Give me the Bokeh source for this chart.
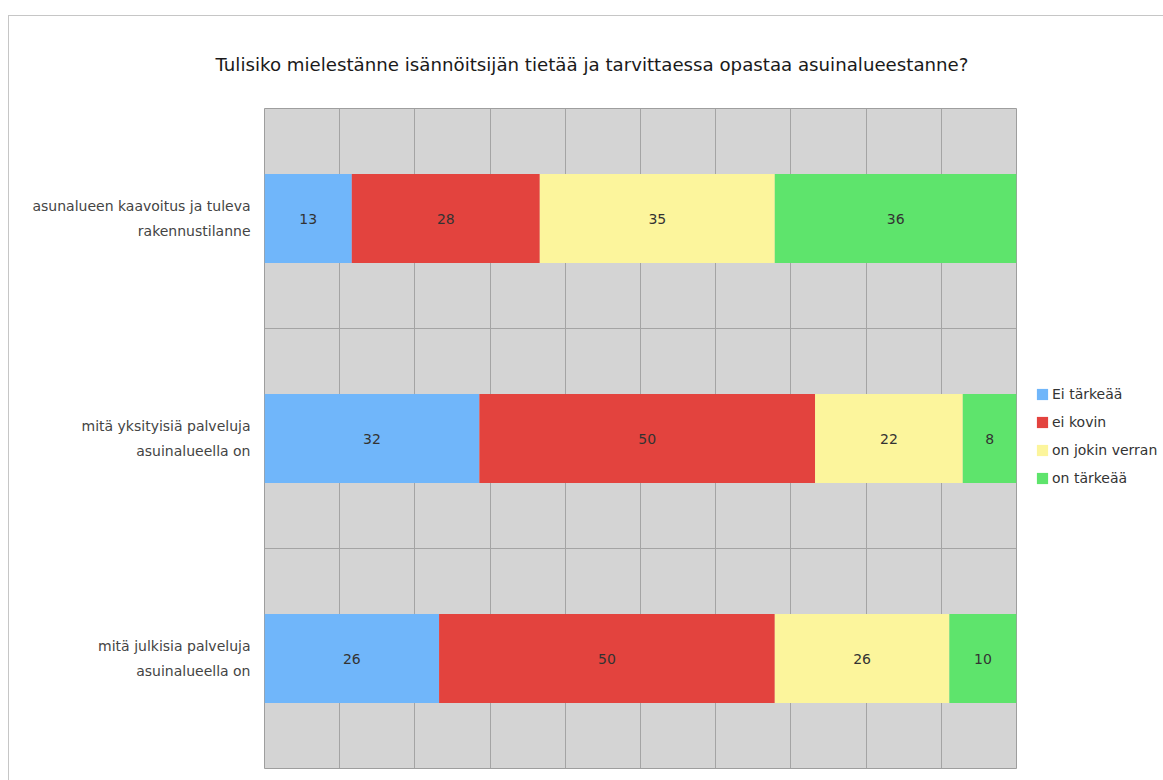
import numpy as np
from bokeh.plotting import figure
from bokeh.layouts import row
from bokeh.models import ColumnDataSource, FixedTicker, Legend, LegendItem, Title
from bokeh.embed import file_html
from bokeh.resources import INLINE

# Survey question and answer categories
title_text = "Tulisiko mielestänne isännöitsijän  tietää ja tarvittaessa opastaa asuinalueestanne?"
categories = [
    "asunalueen kaavoitus ja tuleva\nrakennustilanne",
    "mitä yksityisiä palveluja\nasuinalueella on",
    "mitä julkisia palveluja\nasuinalueella on",
]
series = ["Ei tärkeää", "ei kovin", "on jokin verran", "on tärkeää"]

# Answer counts per topic
ei_tarkeaa = [13, 32, 26]
ei_kovin = [28, 50, 50]
jokin_verran = [35, 22, 26]
tarkeaa = [36, 8, 10]

colors = ["#70b6fa", "#e3433e", "#fcf59c", "#5ee46c"]
FONT = "DejaVu Sans"

values = [ei_tarkeaa, ei_kovin, jokin_verran, tarkeaa]
keys = ["s0", "s1", "s2", "s3"]
n = len(categories)
ypos = [n - i - 0.5 for i in range(n)]
totals = np.sum(np.array(values), axis=0)
xmax = float(totals.max())

src = ColumnDataSource(dict(y=ypos, **{k: v for k, v in zip(keys, values)}))

# Main chart
p = figure(
    width=1011, height=765,
    x_range=(0, xmax), y_range=(0, n),
    output_backend="svg", toolbar_location=None,
    min_border_left=255, min_border_right=4,
    min_border_top=92, min_border_bottom=13,
)
p.background_fill_color = "#d4d4d4"
p.border_fill_color = "white"
p.outline_line_color = "#9e9e9e"
p.outline_line_width = 1

p.title = Title(
    text=title_text, align="left", offset=-49, standoff=68,
    vertical_align="bottom",
    text_font=FONT, text_font_size="18.2px", text_font_style="normal",
    text_color="#1a1a1a",
)

# Vertical grid: ten equal columns across the total
p.xaxis.visible = False
p.xgrid.ticker = FixedTicker(ticks=list(np.linspace(0, xmax, 11)))
p.xgrid.grid_line_color = "#a4a4a4"
p.xgrid.grid_line_width = 1

# Horizontal grid lines separate the topics
p.ygrid.ticker = FixedTicker(ticks=[float(i) for i in range(1, n)])
p.ygrid.grid_line_color = "#a4a4a4"

yax = p.yaxis[0]
yax.ticker = FixedTicker(ticks=ypos)
yax.major_label_overrides = {y: c for y, c in zip(ypos, categories)}
yax.axis_line_color = None
yax.major_tick_line_color = None
yax.minor_tick_line_color = None
yax.major_tick_out = 0
yax.major_tick_in = 0
yax.major_label_standoff = 14
yax.major_label_text_font = FONT
yax.major_label_text_font_size = "14px"
yax.major_label_text_color = "#444444"
yax.major_label_text_align = "right"
yax.major_label_text_line_height = 1.6

p.hbar_stack(keys, y="y", height=0.405, color=colors,
             line_color=None, source=src)

# Value labels centred in each segment
lx, ly, lt = [], [], []
for j in range(n):
    start = 0
    for s in range(len(values)):
        v = values[s][j]
        lx.append(start + v / 2)
        ly.append(ypos[j])
        lt.append(str(v))
        start += v
p.text(x=lx, y=ly, text=lt, text_align="center", text_baseline="middle",
       text_font={"value": FONT}, text_font_size="14px", text_color="#333333")

# Legend panel to the right of the chart; the swatch glyphs are zero-sized
# and sit far outside the visible range so only their legend entries show
lg = figure(
    width=143, height=765, x_range=(0, 1), y_range=(0, 1),
    output_backend="svg", toolbar_location=None,
    min_border=0,
)
lg.axis.visible = False
lg.grid.visible = False
lg.outline_line_color = None
lg.background_fill_color = "white"
lg.border_fill_color = "white"

swatches = [lg.hbar(y=[-1000], left=[0], right=[0], height=0, color=c, line_color=None)
            for c in colors]
legend = Legend(
    items=[LegendItem(label=s, renderers=[r]) for s, r in zip(series, swatches)],
    location=(15, 280),
    orientation="vertical",
    glyph_width=14, glyph_height=14,
    label_height=20, spacing=8,
    label_standoff=3, padding=0, margin=0,
    border_line_color=None, background_fill_alpha=0,
    label_text_font=FONT, label_text_font_size="14px",
    label_text_color="#333333",
)
lg.add_layout(legend, "center")

layout = row(p, lg)
layout.margin = (15, 0, 0, 8)
layout.styles = {"border-top": "1px solid #c6c6c6", "border-left": "1px solid #c6c6c6"}

open("out.html", "w").write(file_html(layout, INLINE))
